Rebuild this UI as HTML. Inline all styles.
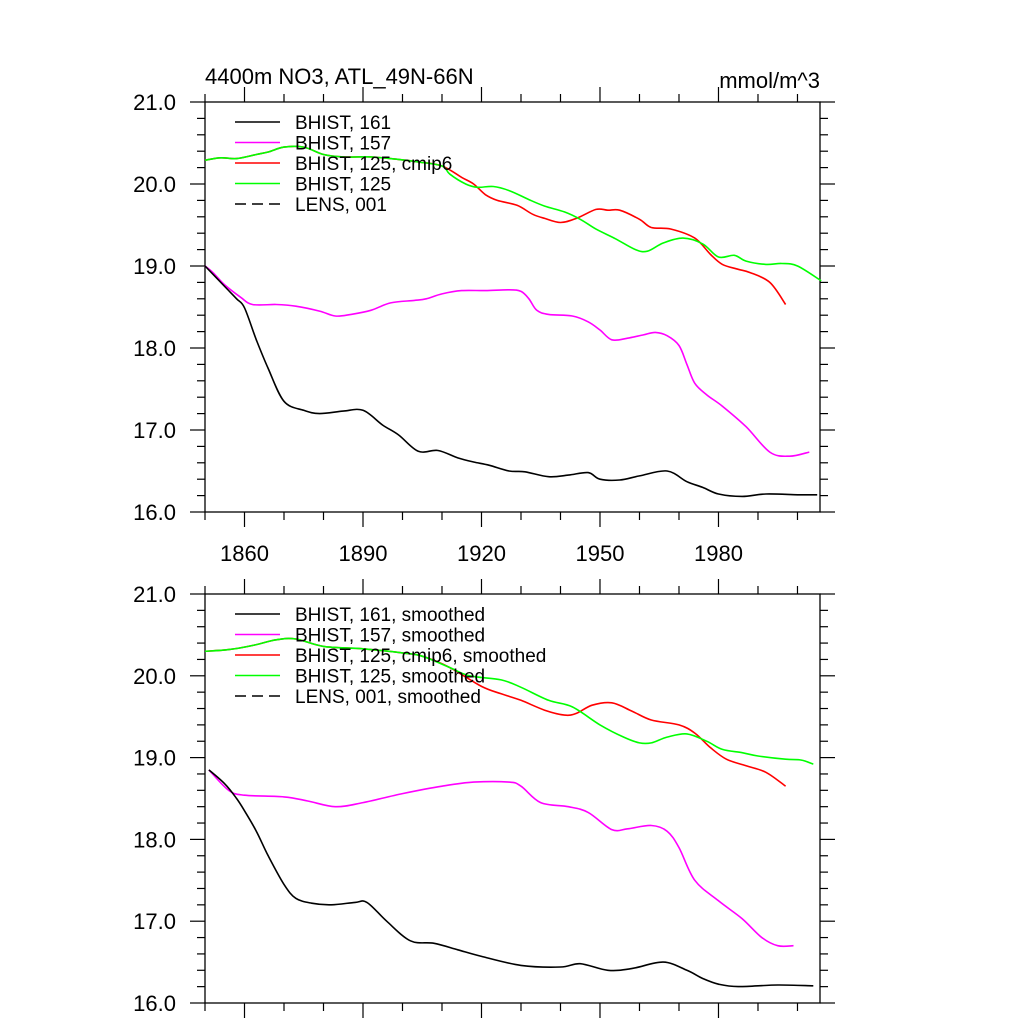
<!DOCTYPE html>
<html><head><meta charset="utf-8"><style>
body{margin:0;background:#fff}
svg{display:block;font-family:"Liberation Sans",sans-serif}
</style></head><body>
<svg id="c" width="1024" height="1024" viewBox="0 0 1024 1024"></svg>
<script>
const xTicks=[1860,1890,1920,1950,1980];
const yTicks=[16,17,18,19,20,21];
const blkYr=[1850,1855,1858,1860,1863,1866,1870,1875,1879,1885,1890,1895,1899,1904,1909,1914,1918,1922,1927,1931,1937,1942,1947,1950,1955,1960,1967,1972,1976,1980,1986,1992,2000,2005];
const blkVal=[19.0,18.75,18.6,18.49,18.1,17.75,17.35,17.24,17.2,17.23,17.24,17.06,16.94,16.74,16.75,16.66,16.61,16.57,16.5,16.49,16.43,16.45,16.48,16.4,16.39,16.44,16.5,16.37,16.3,16.22,16.19,16.22,16.21,16.21];
const pnkYr=[1850,1852,1855,1859,1862,1868,1873,1879,1883,1887,1892,1897,1903,1906,1910,1915,1921,1927,1930,1932,1934,1937,1943,1947,1950,1953,1957,1961,1964,1967,1970,1972,1974,1977,1981,1987,1993,1998,2003];
const pnkVal=[19.0,18.92,18.77,18.62,18.53,18.53,18.51,18.45,18.39,18.41,18.46,18.55,18.58,18.6,18.66,18.7,18.7,18.71,18.69,18.6,18.46,18.41,18.39,18.32,18.22,18.1,18.12,18.16,18.19,18.15,18.03,17.8,17.57,17.43,17.29,17.04,16.73,16.68,16.73];
const grnYr=[1850,1854,1858,1863,1866,1870,1875,1880,1885,1892,1899,1904,1910,1912,1916,1919,1923,1927,1932,1936,1941,1945,1949,1954,1959,1962,1966,1971,1976,1980,1984,1987,1992,1996,2000,2006];
const grnVal=[20.29,20.32,20.31,20.36,20.39,20.45,20.45,20.36,20.33,20.33,20.3,20.27,20.22,20.12,20.0,19.96,19.97,19.92,19.81,19.73,19.66,19.57,19.45,19.33,19.2,19.18,19.28,19.34,19.27,19.11,19.13,19.06,19.02,19.03,19.0,18.82];
const redYr=[1850,1854,1858,1863,1866,1870,1875,1880,1885,1892,1899,1904,1910,1915,1918,1921,1924,1929,1933,1936,1940,1944,1949,1952,1955,1960,1963,1968,1974,1978,1981,1985,1988,1993,1997];
const redVal=[20.29,20.32,20.31,20.36,20.39,20.45,20.45,20.36,20.33,20.33,20.3,20.27,20.22,20.08,20.0,19.87,19.8,19.74,19.63,19.58,19.53,19.58,19.69,19.68,19.68,19.57,19.47,19.45,19.34,19.14,19.02,18.96,18.92,18.8,18.53];
const sBlkYr=[1851,1855,1858,1860,1863,1866,1870,1873,1877,1882,1888,1891,1896,1902,1908,1914,1920,1930,1940,1945,1952,1958,1966,1972,1976,1980,1985,1995,2004];
const sBlkVal=[18.85,18.68,18.5,18.35,18.1,17.8,17.45,17.28,17.22,17.2,17.23,17.23,17.0,16.76,16.73,16.65,16.57,16.46,16.44,16.48,16.4,16.42,16.5,16.4,16.3,16.23,16.2,16.22,16.21];
const sPnkYr=[1851,1856,1860,1870,1876,1883,1890,1900,1910,1918,1927,1930,1935,1942,1947,1953,1957,1963,1967,1970,1974,1980,1986,1991,1995,1999];
const sPnkVal=[18.85,18.6,18.54,18.52,18.47,18.4,18.45,18.56,18.65,18.7,18.7,18.65,18.45,18.4,18.33,18.12,18.13,18.17,18.1,17.9,17.5,17.25,17.03,16.8,16.7,16.7];
const sGrnYr=[1850,1856,1862,1868,1873,1880,1890,1900,1905,1912,1917,1925,1930,1937,1943,1950,1956,1960,1963,1967,1972,1977,1981,1986,1990,1997,2001,2004];
const sGrnVal=[20.3,20.32,20.37,20.44,20.45,20.36,20.33,20.28,20.24,20.1,20.0,19.95,19.86,19.7,19.62,19.4,19.25,19.18,19.18,19.25,19.29,19.2,19.1,19.06,19.02,18.98,18.97,18.92];
const sRedYr=[1850,1856,1862,1868,1873,1880,1890,1900,1905,1912,1920,1925,1930,1936,1941,1944,1948,1953,1958,1963,1970,1974,1978,1982,1987,1992,1997];
const sRedVal=[20.3,20.32,20.37,20.44,20.45,20.36,20.33,20.28,20.24,20.1,19.87,19.78,19.7,19.58,19.52,19.54,19.64,19.67,19.57,19.46,19.4,19.3,19.12,18.98,18.9,18.82,18.65];

const NS='http://www.w3.org/2000/svg';
const svg=document.getElementById('c');
const L=205,R=820,X0=1850,X1=2005.7;
function sx(y){return L+(y-X0)/(X1-X0)*(R-L);}
function mk(t,a,p){const e=document.createElementNS(NS,t);for(const k in a)e.setAttribute(k,a[k]);(p||svg).appendChild(e);return e;}
function smoothPath(P){
  let d='M'+P[0][0].toFixed(1)+','+P[0][1].toFixed(1);
  for(let i=0;i<P.length-1;i++){
    const p0=P[Math.max(0,i-1)],p1=P[i],p2=P[i+1],p3=P[Math.min(P.length-1,i+2)];
    const c1x=p1[0]+(p2[0]-p0[0])/6,c1y=p1[1]+(p2[1]-p0[1])/6;
    const c2x=p2[0]-(p3[0]-p1[0])/6,c2y=p2[1]-(p3[1]-p1[1])/6;
    d+='C'+c1x.toFixed(1)+','+c1y.toFixed(1)+' '+c2x.toFixed(1)+','+c2y.toFixed(1)+' '+p2[0].toFixed(1)+','+p2[1].toFixed(1);
  }
  return d;
}
function panel(T,B,name,series,labels,xlab){
  const g=mk('g',{});
  
  
  const sy=v=>B-(v-16)/5*(B-T);
  const r=mk('rect',{x:L,y:T,width:R-L,height:B-T,fill:'none',stroke:'#000','stroke-width':1.3},g);
  
  for(let yr=1850;yr<=2005;yr+=10){const maj=(yr-1860)%30===0;const len=maj?15:8;const x=sx(yr);
    mk('line',{x1:x,x2:x,y1:T,y2:T-len,stroke:'#000','stroke-width':1.2},g);
    mk('line',{x1:x,x2:x,y1:B,y2:B+len,stroke:'#000','stroke-width':1.2},g);}
  for(let v=16;v<=21.001;v+=0.2){const maj=Math.abs(v-Math.round(v))<0.01;const len=maj?15:8;const y=sy(v);
    mk('line',{x1:L,x2:L-len,y1:y,y2:y,stroke:'#000','stroke-width':1.2},g);
    mk('line',{x1:R,x2:R+len,y1:y,y2:y,stroke:'#000','stroke-width':1.2},g);}
  yTicks.forEach(v=>{const t=mk('text',{x:176,y:sy(v)+8,'text-anchor':'end','font-size':22},g);t.textContent=v.toFixed(1);
    });
  if(xlab)xTicks.forEach(v=>{const t=mk('text',{x:sx(v),y:B+49,'text-anchor':'middle','font-size':22},g);t.textContent=v;
    });
  series.forEach(s=>{const P=s.yr.map((y,i)=>[sx(y),sy(s.v[i])]);
    const p=mk('path',{d:smoothPath(P),fill:'none',stroke:s.c,'stroke-width':1.6,'stroke-linejoin':'round'},g);
    });
  const cols=['#000','#ff00ff','#ff0000','#00ff00','#000'];
  labels.forEach((lb,i)=>{const y=T+20+i*20.5;
    const ln=mk('line',{x1:235,x2:280,y1:y,y2:y,stroke:cols[i],'stroke-width':1.5,'stroke-dasharray':i===4?'11,6':'none'},g);
    
    const t=mk('text',{x:295,y:y+7,'font-size':19},g);t.textContent=lb;
    });
}
panel(102,512,'top-panel',[
 {yr:pnkYr,v:pnkVal,c:'#ff00ff',n:'series-bhist-157'},
 {yr:redYr,v:redVal,c:'#ff0000',n:'series-bhist-125-cmip6'},
 {yr:grnYr,v:grnVal,c:'#00ff00',n:'series-bhist-125'},
 {yr:blkYr,v:blkVal,c:'#000',n:'series-bhist-161'}],
 ['BHIST, 161','BHIST, 157','BHIST, 125, cmip6','BHIST, 125','LENS, 001'],true);
panel(594,1003,'bottom-panel',[
 {yr:sPnkYr,v:sPnkVal,c:'#ff00ff',n:'series-bhist-157-smoothed'},
 {yr:sRedYr,v:sRedVal,c:'#ff0000',n:'series-bhist-125-cmip6-smoothed'},
 {yr:sGrnYr,v:sGrnVal,c:'#00ff00',n:'series-bhist-125-smoothed'},
 {yr:sBlkYr,v:sBlkVal,c:'#000',n:'series-bhist-161-smoothed'}],
 ['BHIST, 161, smoothed','BHIST, 157, smoothed','BHIST, 125, cmip6, smoothed','BHIST, 125, smoothed','LENS, 001, smoothed'],false);
const t1=mk('text',{x:205,y:84,'font-size':22});t1.textContent='4400m NO3, ATL_49N-66N';

const t2=mk('text',{x:820,y:88,'font-size':22,'text-anchor':'end'});t2.textContent='mmol/m^3';

</script>
</body></html>
